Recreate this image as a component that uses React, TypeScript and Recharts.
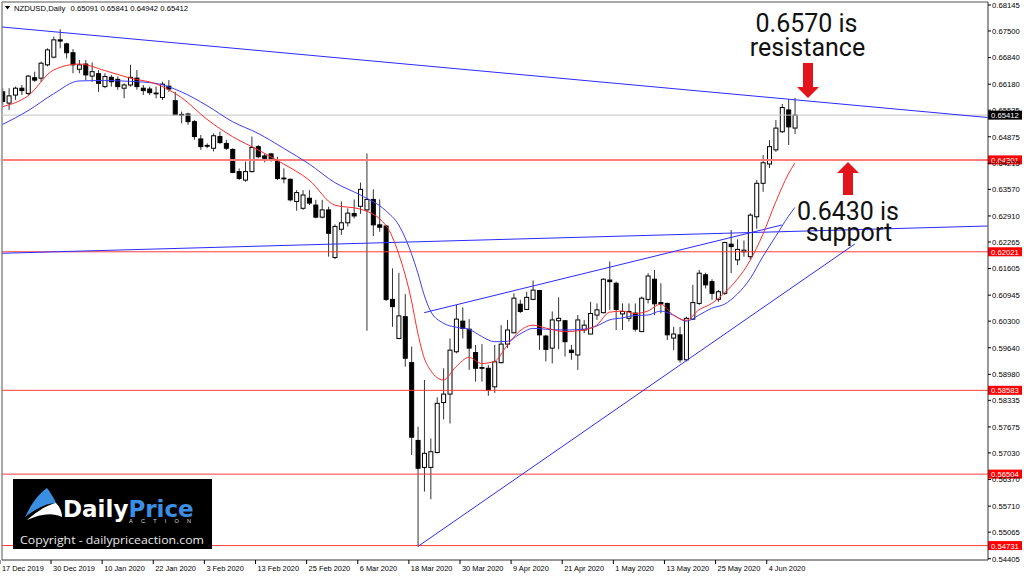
import { Bar, ComposedChart, Line, ReferenceLine, XAxis, YAxis } from "recharts";

const X_DOMAIN: [number, number] = [-0.063, 154.24];
const Y_DOMAIN: [number, number] = [0.54373, 0.68219];

// daily candles, 17 Dec 2019 -> 10 Jun 2020
const opens = [
  0.6599, 0.6571, 0.6591, 0.6608, 0.6595, 0.6634, 0.6633, 0.6666, 0.6685, 0.6728,
  0.6718, 0.6696, 0.6655, 0.6668, 0.6638, 0.6644, 0.6612, 0.6635, 0.663, 0.6608,
  0.6616, 0.6633, 0.6608, 0.6606, 0.6596, 0.6585, 0.6613, 0.6577, 0.6543, 0.6544,
  0.6525, 0.6482, 0.6466, 0.6459, 0.6488, 0.6471, 0.6456, 0.6401, 0.638, 0.6401,
  0.6463, 0.644, 0.6445, 0.6426, 0.6385, 0.6382, 0.6327, 0.631, 0.6335, 0.6318,
  0.6288, 0.6306, 0.6188, 0.6258, 0.6274, 0.6297, 0.6315, 0.6306, 0.6332, 0.6269,
  0.6266, 0.6084, 0.5987, 0.6041, 0.5927, 0.5734, 0.5667, 0.5667, 0.5704, 0.5828,
  0.5849, 0.5954, 0.603, 0.601, 0.5952, 0.5915, 0.5913, 0.5867, 0.5927, 0.5973,
  0.6001, 0.6072, 0.6059, 0.6084, 0.6106, 0.5993, 0.5963, 0.6031, 0.6031, 0.5958,
  0.5946, 0.6008, 0.5998, 0.6045, 0.6051, 0.6132, 0.6124, 0.6048, 0.6037, 0.605,
  0.6004, 0.6084, 0.6134, 0.6076, 0.6074, 0.5988, 0.5996, 0.5934, 0.6035, 0.6074,
  0.6145, 0.6128, 0.6084, 0.6099, 0.6221, 0.6182, 0.6202, 0.619, 0.6289, 0.6372,
  0.642, 0.6455, 0.65, 0.6554, 0.65091,
];
const highs = [
  0.6608, 0.6608, 0.6612, 0.6616, 0.6641, 0.6649, 0.6674, 0.6707, 0.6736, 0.6754,
  0.6721, 0.6705, 0.6678, 0.6678, 0.6672, 0.6653, 0.6645, 0.6641, 0.6637, 0.662,
  0.6666, 0.6653, 0.6616, 0.6612, 0.6612, 0.6624, 0.6628, 0.6599, 0.655, 0.6547,
  0.6529, 0.6492, 0.6471, 0.6496, 0.65, 0.648, 0.6459, 0.6409, 0.6426, 0.6488,
  0.6467, 0.6445, 0.6446, 0.6438, 0.6409, 0.6384, 0.6355, 0.6355, 0.6355, 0.6331,
  0.6331, 0.6314, 0.627, 0.6327, 0.631, 0.6332, 0.6374, 0.6446, 0.6357, 0.6332,
  0.6269, 0.6161, 0.615, 0.6097, 0.5967, 0.5768, 0.5884, 0.5739, 0.5841, 0.5913,
  0.5987, 0.607, 0.6064, 0.6035, 0.5971, 0.5973, 0.5921, 0.5971, 0.602, 0.6033,
  0.6099, 0.6083, 0.6103, 0.6131, 0.6107, 0.5996, 0.6054, 0.6089, 0.6033, 0.5971,
  0.6045, 0.6033, 0.6078, 0.6074, 0.6136, 0.6178, 0.6128, 0.6074, 0.6074, 0.6074,
  0.6091, 0.6149, 0.6157, 0.6124, 0.6076, 0.6016, 0.6016, 0.6041, 0.612, 0.6157,
  0.615, 0.6134, 0.6107, 0.6227, 0.6256, 0.6233, 0.623, 0.6298, 0.638, 0.6442,
  0.6479, 0.6529, 0.6569, 0.6581, 0.65841,
];
const lows = [
  0.6566, 0.6554, 0.6579, 0.6591, 0.6591, 0.6624, 0.6624, 0.6662, 0.6682, 0.6707,
  0.6682, 0.6645, 0.6645, 0.6628, 0.6624, 0.6599, 0.6608, 0.6612, 0.6604, 0.6583,
  0.6612, 0.6604, 0.6591, 0.6591, 0.6583, 0.6579, 0.6599, 0.6542, 0.6521, 0.6517,
  0.648, 0.6455, 0.6459, 0.6451, 0.647, 0.6455, 0.6397, 0.638, 0.6376, 0.6399,
  0.6434, 0.6424, 0.6426, 0.638, 0.6372, 0.6327, 0.6304, 0.6306, 0.6318, 0.6285,
  0.6285, 0.619, 0.6184, 0.6244, 0.6265, 0.6285, 0.6296, 0.6006, 0.6241, 0.6252,
  0.608, 0.6016, 0.5985, 0.5917, 0.5698, 0.5471, 0.5607, 0.5588, 0.5702, 0.5786,
  0.5776, 0.595, 0.5987, 0.5909, 0.588, 0.588, 0.5845, 0.5852, 0.5925, 0.5963,
  0.6, 0.605, 0.6058, 0.6082, 0.5959, 0.593, 0.5925, 0.596, 0.5942, 0.5934,
  0.5909, 0.6, 0.5998, 0.6033, 0.6049, 0.6058, 0.6008, 0.6008, 0.6029, 0.6004,
  0.6003, 0.6074, 0.6045, 0.6049, 0.5983, 0.5958, 0.5927, 0.593, 0.6033, 0.607,
  0.6111, 0.6083, 0.6078, 0.6095, 0.6149, 0.6169, 0.619, 0.6182, 0.6259, 0.6351,
  0.641, 0.645, 0.6497, 0.6467, 0.64942,
];
const closes = [
  0.6575, 0.6589, 0.6608, 0.6602, 0.6638, 0.6628, 0.667, 0.6703, 0.6728, 0.6725,
  0.6696, 0.6666, 0.6666, 0.6641, 0.6649, 0.662, 0.6637, 0.6624, 0.6612, 0.6616,
  0.6635, 0.6612, 0.6602, 0.6597, 0.6595, 0.6618, 0.6606, 0.6542, 0.6542, 0.6525,
  0.6488, 0.6463, 0.6465, 0.649, 0.6473, 0.6459, 0.6399, 0.6384, 0.6401, 0.6461,
  0.6438, 0.6434, 0.6434, 0.6384, 0.6384, 0.6331, 0.6349, 0.6343, 0.6323, 0.6288,
  0.6306, 0.6248, 0.6265, 0.6274, 0.6298, 0.6291, 0.6357, 0.6332, 0.6269, 0.6263,
  0.6084, 0.6066, 0.6043, 0.5938, 0.5742, 0.5665, 0.5702, 0.5706, 0.5826, 0.5849,
  0.5958, 0.6035, 0.6012, 0.5963, 0.5913, 0.5913, 0.5859, 0.5929, 0.5973, 0.6008,
  0.6087, 0.6054, 0.6089, 0.6107, 0.5996, 0.596, 0.6033, 0.6037, 0.5979, 0.5952,
  0.6033, 0.602, 0.6049, 0.6058, 0.6134, 0.6128, 0.6059, 0.6054, 0.6054, 0.601,
  0.6087, 0.6142, 0.6073, 0.6073, 0.5996, 0.5998, 0.5934, 0.6037, 0.6076, 0.6149,
  0.612, 0.6099, 0.6103, 0.6225, 0.6215, 0.6208, 0.6206, 0.6293, 0.6372, 0.6423,
  0.6463, 0.6509, 0.656, 0.6512, 0.65412,
];

// moving averages at these candle indices
const maIdx = [
  0, 4, 8, 12, 16, 20, 24, 28, 32, 36, 40, 44, 48, 52, 56, 60, 62, 64, 65, 66,
  67, 69, 71, 73, 75, 77, 79, 81, 83, 85, 88, 91, 93, 95, 97, 99, 101, 103, 105, 107,
  109, 111, 113, 115, 117, 119, 121, 123, 124,
];
const maFast = [
  0.6562, 0.6589, 0.6653, 0.6668, 0.6652, 0.6633, 0.6619, 0.6585, 0.6531, 0.6488,
  0.6455, 0.642, 0.638, 0.6318, 0.6308, 0.6268, 0.6198, 0.6082, 0.6001, 0.5939,
  0.5908, 0.5884, 0.5917, 0.594, 0.5925, 0.593, 0.597, 0.6006, 0.602, 0.6013,
  0.6004, 0.6008, 0.602, 0.6052, 0.6055, 0.6049, 0.6055, 0.6072, 0.6045, 0.6032,
  0.6058, 0.6074, 0.61, 0.6134, 0.618, 0.6245, 0.6325, 0.6395, 0.6422,
];
const maSlow = [
  0.6518, 0.6552, 0.6594, 0.6626, 0.6627, 0.6625, 0.662, 0.6599, 0.6565, 0.6525,
  0.6496, 0.6459, 0.642, 0.6374, 0.6343, 0.6304, 0.6269, 0.6198, 0.615, 0.6095,
  0.6055, 0.6025, 0.6015, 0.601, 0.5992, 0.5979, 0.598, 0.5998, 0.6012, 0.601,
  0.6008, 0.601, 0.6018, 0.6033, 0.6038, 0.6044, 0.6045, 0.6055, 0.6045, 0.603,
  0.6045, 0.6062, 0.6072, 0.6097, 0.6135, 0.619, 0.624, 0.629, 0.6312,
];

const dateTicks = [0, 8, 16, 24, 32, 40, 48, 56, 64, 72, 80, 88, 96, 104, 112, 120];
const dateLabels = [
  "17 Dec 2019", "30 Dec 2019", "10 Jan 2020", "22 Jan 2020", "3 Feb 2020", "13 Feb 2020",
  "25 Feb 2020", "6 Mar 2020", "18 Mar 2020", "30 Mar 2020", "9 Apr 2020", "21 Apr 2020",
  "1 May 2020", "13 May 2020", "25 May 2020", "4 Jun 2020",
];
const priceTicks = [
  0.68145, 0.675, 0.6684, 0.6618, 0.65535, 0.64875, 0.64215, 0.6357, 0.6291, 0.62265,
  0.61605, 0.60945, 0.603, 0.5964, 0.5898, 0.58335, 0.57675, 0.5703, 0.5637, 0.5571,
  0.55065, 0.54405,
];

const levels = [0.64301, 0.62021, 0.58583, 0.56504, 0.54731];
const lastPrice = 0.65412;

// hand drawn trend lines: [index, price] -> [index, price]
const trendLines = [
  [[-0.06, 0.67599], [154.2, 0.65353]],
  [[-0.06, 0.61984], [154.2, 0.62661]],
  [[66, 0.6051], [122, 0.62686]],
  [[65, 0.54707], [133.4, 0.62214]],
];

const rows: any[] = opens.map((o, i) => ({
  i,
  open: o,
  high: highs[i],
  low: lows[i],
  close: closes[i],
  range: [lows[i], highs[i]],
}));
maIdx.forEach((idx, k) => {
  rows[idx].fast = maFast[k];
  rows[idx].slow = maSlow[k];
});

const FONT = "'Liberation Sans', Arial, sans-serif";

const Candle = (props: any) => {
  const { x, y, width, height, payload } = props;
  if (x == null || y == null || !payload) return null;
  const top = Math.min(y, y + height);
  const bottom = Math.max(y, y + height);
  const span = payload.high - payload.low || 1e-9;
  const toY = (v: number) => top + ((payload.high - v) / span) * (bottom - top);
  const cx = x + width / 2;
  const up = payload.close >= payload.open;
  const bTop = toY(Math.max(payload.open, payload.close));
  const bBot = toY(Math.min(payload.open, payload.close));
  return (
    <g>
      <line x1={cx} x2={cx} y1={top} y2={bottom} stroke="#333" strokeWidth={1} />
      <rect
        x={cx - 2}
        y={bTop}
        width={4}
        height={Math.max(bBot - bTop, 0.8)}
        fill={up ? "#fff" : "#000"}
        stroke="#000"
        strokeWidth={1}
      />
    </g>
  );
};

const PriceTag = ({ viewBox, value, fill }: any) => {
  if (!viewBox) return null;
  const x0 = viewBox.x + viewBox.width;
  const y0 = viewBox.y;
  return (
    <g>
      <rect x={x0} y={y0 - 4.5} width={34} height={9} fill={fill} />
      <text x={x0 + 3} y={y0 + 3} fontSize={7.7} fill="#fff" fontFamily={FONT}>
        {value}
      </text>
    </g>
  );
};

const DateTick = ({ x, y, payload }: any) => {
  const k = dateTicks.indexOf(payload.value);
  return (
    <g>
      <line x1={x - 2.5} x2={x - 2.5} y1={y} y2={y + 4} stroke="#000" />
      <text x={x - 0.5} y={y + 10.5} fontSize={7.4} fill="#000" fontFamily={FONT}>
        {dateLabels[k]}
      </text>
    </g>
  );
};

const PriceTick = ({ x, y, payload }: any) => (
  <text x={x} y={y + 2.8} fontSize={7.7} fill="#000" fontFamily={FONT}>
    {Number(payload.value).toFixed(5)}
  </text>
);

const Overlay = () => (
  <svg
    width={1024}
    height={577}
    style={{ position: "absolute", left: 0, top: 0, pointerEvents: "none" }}
  >
    {/* header */}
    <path d="M5,6 L10,6 L7.5,9.5 Z" fill="#000" />
    <text x={14} y={11} fontSize={7.7} fontFamily={FONT} fill="#000">NZDUSD,Daily</text>
    <text x={70.5} y={11} fontSize={7.7} fontFamily={FONT} fill="#000">
      0.65091 0.65841 0.64942 0.65412
    </text>

    {/* annotations */}
    <g fontFamily="Roboto, 'Open Sans', sans-serif" fontSize={25} fill="#111" textAnchor="middle">
      <text x={806.5} y={31.5}>0.6570 is</text>
      <text x={807.5} y={56}>resistance</text>
      <text x={848} y={220}>0.6430 is</text>
      <text x={849} y={241}>support</text>
    </g>
    <path d="M803,63 H813 V87 H819 L808,98 L797,87 H803 Z" fill="#e3141b" />
    <path d="M848,162 L859,173 H853 V195 H843 V173 H837 Z" fill="#e3141b" />

    {/* logo */}
    <rect x={13} y={479} width={199} height={70} fill="#000" />
    <path d="M25,517 C31,505 38,494 47,488 C50,492 54,498 56,503 C47,503 37,508 25,517 Z" fill="#3b8fe3" />
    <path d="M27,520 C38,510 50,504 56,503 C60,507 62,512 62,517 C52,512 40,514 27,520 Z" fill="#fff" />
    <text x={63} y={516.5} fontSize={23} fontWeight="bold" fontFamily="'DejaVu Sans', sans-serif" fill="#fff">
      Daily<tspan fill="#3b8fe3">Price</tspan>
    </text>
    <text x={129} y={522.5} fontSize={5.5} fontFamily={FONT} fill="#ddd" textLength={62} lengthAdjust="spacing">
      ACTION
    </text>
    <text x={20} y={544} fontSize={11.5} fontFamily="'Open Sans', sans-serif" fill="#e8e8e8" textLength={184} lengthAdjust="spacingAndGlyphs">
      Copyright - dailypriceaction.com
    </text>
  </svg>
);

export default function App() {
  return (
    <div style={{ position: "absolute", left: 0, top: 0, width: 1024, height: 577, background: "#fff" }}>
      <ComposedChart width={1024} height={577} data={rows} margin={{ top: 2, right: 0, bottom: 0, left: 2 }}>
        <XAxis
          dataKey="i"
          type="number"
          domain={X_DOMAIN}
          allowDataOverflow
          ticks={dateTicks}
          interval={0}
          tick={<DateTick />}
          tickLine={false}
          tickSize={0}
          tickMargin={0}
          height={17}
          axisLine={{ stroke: "#333" }}
        />
        <YAxis
          orientation="right"
          type="number"
          domain={Y_DOMAIN}
          allowDataOverflow
          ticks={priceTicks}
          interval={0}
          tick={<PriceTick />}
          tickLine={{ stroke: "#000" }}
          tickSize={3}
          tickMargin={1}
          width={36}
          axisLine={{ stroke: "#333" }}
        />
        <ReferenceLine y={Y_DOMAIN[1]} stroke="#8c8c8c" strokeWidth={1.5} />
        <ReferenceLine x={X_DOMAIN[0]} stroke="#8c8c8c" strokeWidth={1.5} />
        <ReferenceLine y={lastPrice} stroke="#c4c4c4" label={<PriceTag value={lastPrice.toFixed(5)} fill="#000" />} />
        {levels.map((lv, k) => (
          <ReferenceLine
            key={lv}
            y={lv}
            stroke={k === 0 ? "#ff7a7a" : "#ff3b3b"}
            strokeWidth={k === 0 ? 2 : 1}
            label={<PriceTag value={lv.toFixed(5)} fill="#ff0000" />}
          />
        ))}
        {trendLines.map((seg, k) => (
          <ReferenceLine
            key={k}
            segment={[
              { x: seg[0][0], y: seg[0][1] },
              { x: seg[1][0], y: seg[1][1] },
            ]}
            stroke="#2b2bff"
            strokeWidth={1}
          />
        ))}
        <Line dataKey="slow" type="monotone" stroke="#3c3cff" strokeWidth={1} dot={false} connectNulls isAnimationActive={false} />
        <Line dataKey="fast" type="monotone" stroke="#ff2a2a" strokeWidth={1} dot={false} connectNulls isAnimationActive={false} />
        <Bar dataKey="range" barSize={5} shape={<Candle />} isAnimationActive={false} />
      </ComposedChart>
      <Overlay />
    </div>
  );
}
